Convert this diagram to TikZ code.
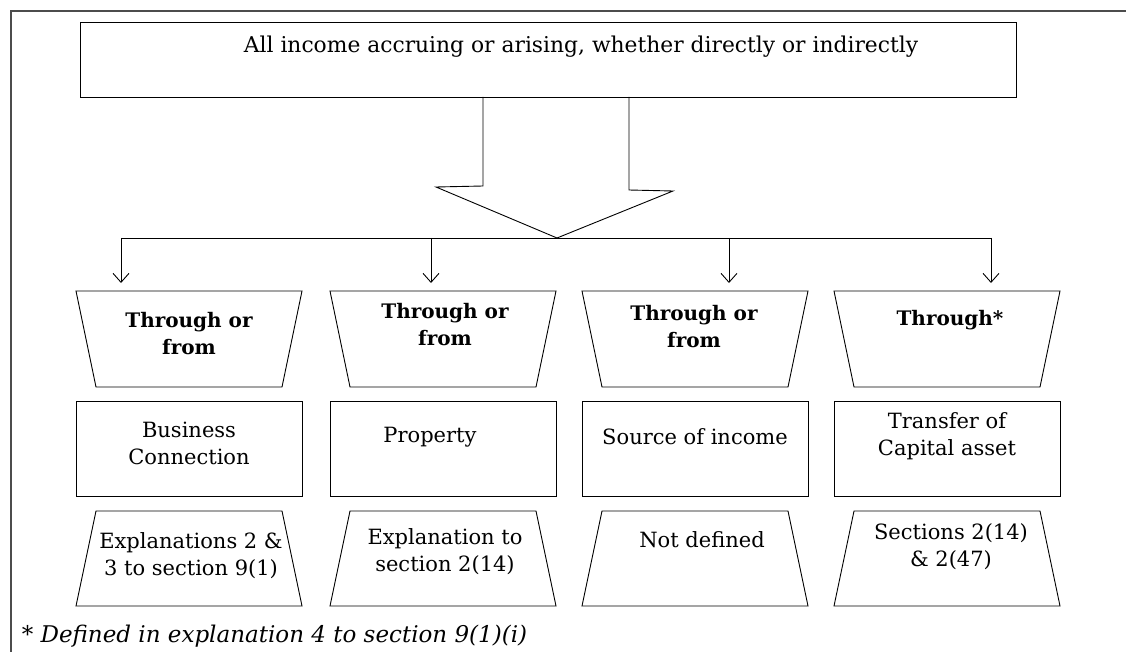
\documentclass[tikz,border=0pt]{standalone}
\usepackage{fontspec}
\setmainfont{DejaVu Serif}
\usetikzlibrary{arrows.meta}

\tikzset{
	box/.style={draw, minimum width=226pt, minimum height=95pt, inner sep=0pt},
	txt/.style={align=center, font=\fontsize{21}{27}\selectfont},
	head/.style={align=center, font=\fontsize{20}{27}\selectfont\bfseries},
}

\begin{document}
\begin{tikzpicture}[x=1pt,y=-1pt,line width=0.9pt]
\useasboundingbox (0,0) rectangle (1126,652);
%\draw [help lines] (0,0) grid (1126,652);

%frame
\draw [line width=1.8pt, black!70] (11,652)--(11,11)--(1126,11);

%title box
\node [draw, minimum width=936pt, minimum height=75pt, inner sep=0pt] (src) at (548,59.5) {};
\node [txt, font=\fontsize{21.8}{27}\selectfont] (srctxt) at (581,47) {All income accruing or arising, whether directly or indirectly};

%big arrow
\draw (483,97)--(483,186)--(436,187)--(557,238)--(673,191)--(629,190)--(629,97);

%bus
\coordinate (tip) at (557,238);
\foreach \x [count=\i] in {121,431,729,991}{
	\coordinate (b\i) at (\x,238);
	\coordinate (a\i) at (\x,283);
}
\draw (b1)--(b4);
\foreach \i in {1,...,4}{
	\begin{scope}[>={Straight Barb[length=9pt,width=16pt]}]
		\draw [->] (b\i)--(a\i);
	\end{scope}
}

%columns: wide-top trapezium, box, narrow-top trapezium
\foreach \x [count=\i] in {76,330,582,834}{
	\draw (\x,291)--(\x+226,291)--(\x+206,387)--(\x+20,387)--cycle;
	\node [box] (r\i) at (\x+113,448.5) {};
	\draw (\x+20,511)--(\x+206,511)--(\x+226,606)--(\x,606)--cycle;
}

%labels
\node [head] (h1) at (189,334) {Through or\\from};
\node [head] (h2) at (445,325) {Through or\\from};
\node [head] (h3) at (694,327) {Through or\\from};
\node [head] (h4) at (950,320) {Through*};

\node [txt] (n1) at (189,443) {Business\\Connection};
\node [txt] (n2) at (430,437) {Property};
\node [txt] (n3) at (695,437) {Source of income};
\node [txt] (n4) at (947,436) {Transfer of\\Capital asset};

\node [txt] (x1) at (191,556) {Explanations 2 \&\\3 to section 9(1)};
\node [txt] (x2) at (445,552) {Explanation to\\section 2(14)};
\node [txt] (x3) at (702,540) {Not defined};
\node [txt] (x4) at (951,547) {Sections 2(14)\\\& 2(47)};

%footnote
\node [txt, anchor=west, font=\fontsize{23}{27}\selectfont] (note) at (18,636) {* \textit{Defined in explanation 4 to section 9(1)(i)}};
\end{tikzpicture}
\end{document}
